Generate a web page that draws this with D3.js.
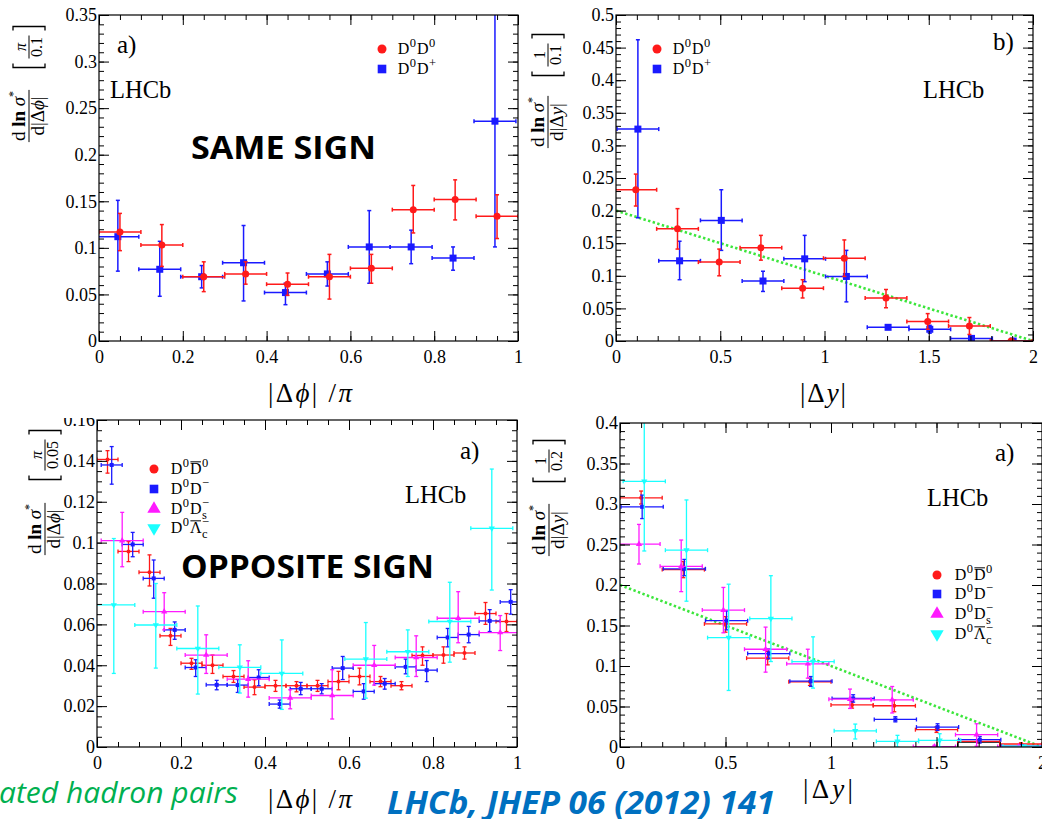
<!DOCTYPE html>
<html>
<head>
<meta charset="utf-8">
<script src="https://cdn.jsdelivr.net/npm/d3@7"></script>
<style>
  html, body { margin: 0; padding: 0; background: #fff; }
  svg { display: block; }
</style>
</head>
<body>
<svg id="chart" width="1042" height="819"></svg>
<script>
// ---------------- tick labels ----------------
const phiXTicks = [0, 0.2, 0.4, 0.6, 0.8, 1];
const dyXTicks = [0, 0.5, 1, 1.5, 2];
const ssPhiYTicks = [0, 0.05, 0.1, 0.15, 0.2, 0.25, 0.3, 0.35];
const ssDyYTicks = [0, 0.05, 0.1, 0.15, 0.2, 0.25, 0.3, 0.35, 0.4, 0.45, 0.5];
const osPhiYTicks = [0, 0.02, 0.04, 0.06, 0.08, 0.1, 0.12, 0.14, 0.16];
const osDyYTicks = [0, 0.05, 0.1, 0.15, 0.2, 0.25, 0.3, 0.35, 0.4];

// ---------------- same sign, |dphi|/pi ----------------
const ssPhiBins = [0.05, 0.15, 0.25, 0.35, 0.45, 0.55, 0.65, 0.75, 0.85, 0.95];
const ssPhiD0D0   = [0.117, 0.103, 0.069, 0.072, 0.061, 0.069, 0.078, 0.141, 0.152, 0.134];
const ssPhiD0D0Hi = [0.137, 0.125, 0.085, 0.085, 0.073, 0.093, 0.093, 0.167, 0.173, 0.157];
const ssPhiD0D0Lo = [0.097, 0.080, 0.053, 0.061, 0.049, 0.045, 0.062, 0.116, 0.130, 0.110];
const ssPhiD0Dp   = [0.112, 0.077, 0.069, 0.084, 0.052, 0.072, 0.101, 0.101, 0.089, 0.236];
const ssPhiD0DpHi = [0.151, 0.107, 0.081, 0.124, 0.062, 0.085, 0.140, 0.119, 0.101, 0.400];
const ssPhiD0DpLo = [0.075, 0.048, 0.057, 0.043, 0.039, 0.059, 0.062, 0.083, 0.076, 0.101];

// ---------------- same sign, |dy| ----------------
const ssDyBins = [0.1, 0.3, 0.5, 0.7, 0.9, 1.1, 1.3, 1.5, 1.7, 1.9];
const ssDyD0D0   = [0.232, 0.172, 0.121, 0.143, 0.081, 0.127, 0.066, 0.030, 0.023, 0.000];
const ssDyD0D0Hi = [0.256, 0.203, 0.141, 0.162, 0.094, 0.155, 0.079, 0.042, 0.036, 0.001];
const ssDyD0D0Lo = [0.207, 0.141, 0.100, 0.124, 0.066, 0.099, 0.051, 0.018, 0.010, 0.000];
const ssDyD0Dp   = [0.325, 0.123, 0.185, 0.092, 0.126, 0.099, 0.021, 0.018, 0.004, 0.000];
const ssDyD0DpHi = [0.462, 0.153, 0.232, 0.107, 0.162, 0.139, 0.024, 0.024, 0.006, 0.001];
const ssDyD0DpLo = [0.189, 0.094, 0.139, 0.076, 0.091, 0.060, 0.018, 0.012, 0.002, 0.000];
// reference line drawn on both |dy| panels
const refLineX = [0, 2];
const refLineY = [0.2, 0];

// ---------------- opposite sign, |dphi|/pi ----------------
const osPhiBinsFine = [0.025, 0.075, 0.125, 0.175, 0.225, 0.275, 0.325, 0.375, 0.425, 0.475,
                       0.525, 0.575, 0.625, 0.675, 0.725, 0.775, 0.825, 0.875, 0.925, 0.975];
const osPhiD0D0b   = [0.1407, 0.0957, 0.0855, 0.0544, 0.0410, 0.0400, 0.0345, 0.0293, 0.0300, 0.0300,
                      0.0300, 0.0320, 0.0345, 0.0320, 0.0300, 0.0448, 0.0450, 0.0460, 0.0653, 0.0614];
const osPhiD0D0bHi = [0.1450, 0.1005, 0.0940, 0.0580, 0.0434, 0.0450, 0.0374, 0.0329, 0.0326, 0.0320,
                      0.0326, 0.0370, 0.0386, 0.0345, 0.0320, 0.0490, 0.0490, 0.0490, 0.0707, 0.0653];
const osPhiD0D0bLo = [0.1340, 0.0907, 0.0788, 0.0497, 0.0380, 0.0360, 0.0316, 0.0256, 0.0272, 0.0270,
                      0.0272, 0.0280, 0.0304, 0.0295, 0.0280, 0.0400, 0.0410, 0.0430, 0.0600, 0.0565];
const osPhiD0Dm   = [0.1380, 0.0991, 0.0825, 0.0573, 0.0389, 0.0304, 0.0303, 0.0340, 0.0210, 0.0285,
                     0.0285, 0.0386, 0.0272, 0.0310, 0.0392, 0.0376, 0.0536, 0.0550, 0.0617, 0.0710];
const osPhiD0DmHi = [0.1470, 0.1050, 0.0915, 0.0612, 0.0427, 0.0326, 0.0330, 0.0378, 0.0230, 0.0316,
                     0.0310, 0.0443, 0.0310, 0.0335, 0.0430, 0.0423, 0.0580, 0.0590, 0.0672, 0.0770];
const osPhiD0DmLo = [0.1286, 0.0931, 0.0728, 0.0527, 0.0345, 0.0280, 0.0267, 0.0300, 0.0190, 0.0256,
                     0.0260, 0.0330, 0.0234, 0.0283, 0.0358, 0.0320, 0.0490, 0.0510, 0.0565, 0.0650];
const osPhiBinsWide = [0.05, 0.15, 0.25, 0.35, 0.45, 0.55, 0.65, 0.75, 0.85, 0.95];
const osPhiD0Ds   = [0.1010, 0.0662, 0.0450, 0.0332, 0.0240, 0.0252, 0.0400, 0.0438, 0.0630, 0.0560];
const osPhiD0DsHi = [0.1148, 0.0755, 0.0549, 0.0422, 0.0280, 0.0378, 0.0497, 0.0544, 0.0760, 0.0643];
const osPhiD0DsLo = [0.0882, 0.0573, 0.0360, 0.0244, 0.0187, 0.0137, 0.0303, 0.0345, 0.0510, 0.0472];
const osPhiLcBins = [0.05, 0.15, 0.25, 0.35, 0.45, 0.65, 0.75, 0.85, 0.95];
const osPhiD0Lc   = [0.0695, 0.0597, 0.0482, 0.0390, 0.0360, 0.0430, 0.0466, 0.0614, 0.1070];
const osPhiD0LcHi = [0.1020, 0.0800, 0.0690, 0.0500, 0.0524, 0.0609, 0.0573, 0.0806, 0.1360];
const osPhiD0LcLo = [0.0360, 0.0386, 0.0259, 0.0264, 0.0184, 0.0239, 0.0345, 0.0415, 0.0768];

// ---------------- opposite sign, |dy| ----------------
const osDyBins = [0.1, 0.3, 0.5, 0.7, 0.9, 1.1, 1.3, 1.5, 1.7, 1.9];
const osDyD0D0b   = [0.3076, 0.219, 0.152, 0.1097, 0.0805, 0.052, 0.0509, 0.0214, 0.007, 0.0037];
const osDyD0D0bHi = [0.3160, 0.229, 0.161, 0.1180, 0.0850, 0.056, 0.0580, 0.0250, 0.009, 0.0050];
const osDyD0D0bLo = [0.3000, 0.209, 0.1417, 0.1014, 0.0760, 0.048, 0.0435, 0.0180, 0.005, 0.0025];
const osDyD0Dm   = [0.2965, 0.2200, 0.1560, 0.1154, 0.0813, 0.0600, 0.0340, 0.0246, 0.009, 0.001];
const osDyD0DmHi = [0.3110, 0.2316, 0.1680, 0.1210, 0.0870, 0.0645, 0.0374, 0.0287, 0.013, 0.002];
const osDyD0DmLo = [0.2820, 0.2115, 0.1446, 0.1090, 0.0748, 0.0554, 0.0310, 0.0205, 0.005, 0.000];
const osDyD0Ds   = [0.2505, 0.2230, 0.169, 0.1207, 0.1027, 0.0590, 0.0583, 0.0005, 0.0152, 0.0005];
const osDyD0DsHi = [0.2748, 0.2555, 0.197, 0.1480, 0.1207, 0.0715, 0.0747, 0.0020, 0.0287, 0.0020];
const osDyD0DsLo = [0.2259, 0.1918, 0.141, 0.0924, 0.0850, 0.0476, 0.0420, 0.0000, 0.0010, 0.0000];
const osDyLcBins = [0.1, 0.3, 0.5, 0.7, 0.9, 1.1, 1.3, 1.5, 1.9];
const osDyD0Lc   = [0.328, 0.243, 0.135, 0.1585, 0.1055, 0.0200, 0.0070, 0.0082, 0.001];
const osDyD0LcHi = [0.415, 0.305, 0.201, 0.2115, 0.1360, 0.0283, 0.0144, 0.0164, 0.002];
const osDyD0LcLo = [0.242, 0.180, 0.0698, 0.1055, 0.0727, 0.0099, 0.0000, 0.0000, 0.000];
const osDyBoxBins = [1.7];
const osDyBox = [0.006];

// ---------------- legend labels ----------------
const lblD0D0  = [{t: "D"}, {t: "0", sup: 1}, {t: "D"}, {t: "0", sup: 1}];
const lblD0Dp  = [{t: "D"}, {t: "0", sup: 1}, {t: "D"}, {t: "+", sup: 1}];
const lblD0D0b = [{t: "D"}, {t: "0", sup: 1}, {t: "D", bar: 1}, {t: "0", sup: 1}];
const lblD0Dm  = [{t: "D"}, {t: "0", sup: 1}, {t: "D"}, {t: "\u2212", sup: 1}];
const lblD0Ds  = [{t: "D"}, {t: "0", sup: 1}, {t: "D"}, {t: "\u2212", sup: 1}, {t: "s", sub: 1, stack: 1}];
const lblD0Lc  = [{t: "D"}, {t: "0", sup: 1}, {t: "\u039B", bar: 1}, {t: "\u2212", sup: 1}, {t: "c", sub: 1, stack: 1}];

// ---------------- drawing ----------------
const svg = d3.select("#chart");
const SERIF = "'Liberation Serif', 'Times New Roman', serif";
const SANS = "'Open Sans', 'Noto Sans', sans-serif";
const RED = "#ff1a1a", BLUE = "#1a1aff", MAG = "#ff1aff", CYAN = "#1affff";
const PHI = "\u03D5";
const fmt = d => String(+d.toFixed(3));

const panels = [
  {
    id: "p1", box: {l: 99, r: 518, t: 15, b: 341}, xDom: [0, 1], yDom: [0, 0.35],
    xTicks: phiXTicks, xMinor: 0.05, yTicks: ssPhiYTicks, yMinor: 0.01,
    mk: 3.5, lw: 1.5,
    series: [
      {bins: ssPhiBins, half: 0.05, shift: -0.005, v: ssPhiD0Dp, hi: ssPhiD0DpHi, lo: ssPhiD0DpLo, color: BLUE, shape: "square"},
      {bins: ssPhiBins, half: 0.05, shift: 0, v: ssPhiD0D0, hi: ssPhiD0D0Hi, lo: ssPhiD0D0Lo, color: RED, shape: "circle"}
    ]
  },
  {
    id: "p2", box: {l: 616, r: 1033, t: 15, b: 341}, xDom: [0, 2], yDom: [0, 0.5],
    xTicks: dyXTicks, xMinor: 0.1, yTicks: ssDyYTicks, yMinor: 0.01,
    mk: 3.5, lw: 1.5, refLine: true,
    series: [
      {bins: ssDyBins, half: 0.1, shift: 0.005, v: ssDyD0Dp, hi: ssDyD0DpHi, lo: ssDyD0DpLo, color: BLUE, shape: "square"},
      {bins: ssDyBins, half: 0.1, shift: -0.005, v: ssDyD0D0, hi: ssDyD0D0Hi, lo: ssDyD0D0Lo, color: RED, shape: "circle"}
    ]
  },
  {
    id: "p3", box: {l: 97, r: 517, t: 420, b: 747}, xDom: [0, 1], yDom: [0, 0.16],
    xTicks: phiXTicks, xMinor: 0.05, yTicks: osPhiYTicks, yMinor: 0.005,
    mk: 2, lw: 1.3, clipTop: 418,
    series: [
      {bins: osPhiBinsFine, half: 0.025, shift: 0, v: osPhiD0D0b, hi: osPhiD0D0bHi, lo: osPhiD0D0bLo, color: RED, shape: "circle"},
      {bins: osPhiBinsFine, half: 0.025, shift: 0.01, v: osPhiD0Dm, hi: osPhiD0DmHi, lo: osPhiD0DmLo, color: BLUE, shape: "square"},
      {bins: osPhiBinsWide, half: 0.05, shift: 0.01, v: osPhiD0Ds, hi: osPhiD0DsHi, lo: osPhiD0DsLo, color: MAG, shape: "tri"},
      {bins: osPhiLcBins, half: 0.05, shift: -0.01, v: osPhiD0Lc, hi: osPhiD0LcHi, lo: osPhiD0LcLo, color: CYAN, shape: "itri"}
    ]
  },
  {
    id: "p4", box: {l: 620, r: 1042, t: 423, b: 747}, xDom: [0, 2], yDom: [0, 0.4],
    xTicks: dyXTicks, xMinor: 0.1, yTicks: osDyYTicks, yMinor: 0.01,
    mk: 2, lw: 1.3, refLine: true, box17: true,
    series: [
      {bins: osDyBins, half: 0.1, shift: 0, v: osDyD0D0b, hi: osDyD0D0bHi, lo: osDyD0D0bLo, color: RED, shape: "circle"},
      {bins: osDyBins, half: 0.1, shift: 0.005, v: osDyD0Dm, hi: osDyD0DmHi, lo: osDyD0DmLo, color: BLUE, shape: "square"},
      {bins: osDyBins, half: 0.1, shift: -0.01, v: osDyD0Ds, hi: osDyD0DsHi, lo: osDyD0DsLo, color: MAG, shape: "tri"},
      {bins: osDyLcBins, half: 0.1, shift: 0.015, v: osDyD0Lc, hi: osDyD0LcHi, lo: osDyD0LcLo, color: CYAN, shape: "itri"}
    ]
  }
];

const defs = svg.append("defs");

function marker(g, shape, cx, cy, s, color) {
  if (shape === "circle") {
    g.append("circle").attr("cx", cx).attr("cy", cy).attr("r", s).attr("fill", color);
  } else if (shape === "square") {
    g.append("rect").attr("x", cx - s).attr("y", cy - s).attr("width", 2 * s).attr("height", 2 * s).attr("fill", color);
  } else {
    const sym = d3.symbol().type(d3.symbolTriangle).size(s * s * 4.2);
    g.append("path").attr("d", sym())
      .attr("transform", `translate(${cx},${cy})` + (shape === "itri" ? " rotate(180)" : ""))
      .attr("fill", color);
  }
}

function richText(g, x, y, segs, size) {
  let cx = x, supX = x, supW = 0;
  segs.forEach(s => {
    const small = s.sup || s.sub;
    const fs = small ? size * 0.78 : size;
    const dy = s.sup ? -size * 0.42 : (s.sub ? size * 0.34 : 0);
    const sx = s.stack ? supX : cx + (small ? 0.5 : 0.8);
    const t = g.append("text").attr("x", sx).attr("y", y + dy)
      .attr("font-family", SERIF).attr("font-size", fs).attr("fill", "#000").text(s.t);
    const w = t.node().getComputedTextLength();
    if (s.bar) {
      g.append("line").attr("x1", sx + 0.5).attr("x2", sx + w - 0.5)
        .attr("y1", y - size * 0.76).attr("y2", y - size * 0.76)
        .attr("stroke", "#000").attr("stroke-width", 1);
    }
    if (s.sup) { supX = sx; supW = w; }
    cx = s.stack ? Math.max(supX + supW, sx + w) : sx + w;
  });
}

panels.forEach(p => {
  const B = p.box;
  const x = d3.scaleLinear().domain(p.xDom).range([B.l, B.r]);
  const y = d3.scaleLinear().domain(p.yDom).range([B.b, B.t]);

  const root = svg.append("g");
  if (p.clipTop !== undefined) {
    defs.append("clipPath").attr("id", p.id + "-outer").append("rect")
      .attr("x", 0).attr("y", p.clipTop).attr("width", 1042).attr("height", 819 - p.clipTop);
    root.attr("clip-path", `url(#${p.id}-outer)`);
  }

  // data are clipped to the frame
  defs.append("clipPath").attr("id", p.id + "-clip").append("rect")
    .attr("x", B.l).attr("y", B.t).attr("width", B.r - B.l).attr("height", B.b - B.t);
  const data = root.append("g").attr("clip-path", `url(#${p.id}-clip)`);

  if (p.refLine) {
    const line = d3.line().x((d, i) => x(refLineX[i])).y(d => y(d));
    data.append("path").attr("d", line(refLineY)).attr("fill", "none")
      .attr("stroke", "#3ce63c").attr("stroke-width", 2.6).attr("stroke-dasharray", "2.4,2.4");
  }

  if (p.box17) {
    osDyBoxBins.forEach((b, i) => {
      data.append("path")
        .attr("d", `M${x(b - 0.1)},${y(0)}V${y(osDyBox[i])}H${x(b + 0.1)}V${y(0)}`)
        .attr("fill", "none").attr("stroke", "#000").attr("stroke-width", 1.2);
    });
  }

  const cap = 2;
  p.series.forEach(s => {
    const g = data.append("g").attr("stroke", s.color).attr("stroke-width", p.lw).attr("fill", "none");
    s.bins.forEach((b, i) => {
      const cx = x(b + s.shift), xl = x(b + s.shift - s.half), xr = x(b + s.shift + s.half);
      const cy = y(s.v[i]), yu = y(s.hi[i]), yd = y(s.lo[i]);
      g.append("line").attr("x1", xl).attr("x2", xr).attr("y1", cy).attr("y2", cy);
      g.append("line").attr("x1", xl).attr("x2", xl).attr("y1", cy - cap).attr("y2", cy + cap);
      g.append("line").attr("x1", xr).attr("x2", xr).attr("y1", cy - cap).attr("y2", cy + cap);
      if (yd - yu > 0.5) {
        g.append("line").attr("x1", cx).attr("x2", cx).attr("y1", yu).attr("y2", yd);
        g.append("line").attr("x1", cx - cap).attr("x2", cx + cap).attr("y1", yu).attr("y2", yu);
        g.append("line").attr("x1", cx - cap).attr("x2", cx + cap).attr("y1", yd).attr("y2", yd);
      }
    });
    const m = data.append("g");
    s.bins.forEach((b, i) => marker(m, s.shape, x(b + s.shift), y(s.v[i]), p.mk, s.color));
  });

  // axes: inward ticks on all four sides
  const axG = root.append("g");
  const xMinorVals = d3.range(p.xDom[0], p.xDom[1] + 1e-9, p.xMinor);
  const yMinorVals = d3.range(p.yDom[0], p.yDom[1] + 1e-9, p.yMinor);
  const style = sel => {
    sel.select(".domain").remove();
    sel.selectAll("line").attr("stroke", "#000").attr("stroke-width", 1);
    sel.selectAll("text").attr("font-family", SERIF).attr("font-size", 18).attr("fill", "#000");
  };
  axG.append("g").attr("transform", `translate(0,${B.b})`)
    .call(d3.axisBottom(x).tickValues(p.xTicks).tickSize(-10).tickSizeOuter(0).tickPadding(9).tickFormat(fmt)).call(style);
  axG.append("g").attr("transform", `translate(0,${B.b})`)
    .call(d3.axisBottom(x).tickValues(xMinorVals).tickSize(-5).tickSizeOuter(0).tickFormat("")).call(style);
  axG.append("g").attr("transform", `translate(0,${B.t})`)
    .call(d3.axisTop(x).tickValues(p.xTicks).tickSize(-10).tickSizeOuter(0).tickFormat("")).call(style);
  axG.append("g").attr("transform", `translate(0,${B.t})`)
    .call(d3.axisTop(x).tickValues(xMinorVals).tickSize(-5).tickSizeOuter(0).tickFormat("")).call(style);
  axG.append("g").attr("transform", `translate(${B.l},0)`)
    .call(d3.axisLeft(y).tickValues(p.yTicks).tickSize(-10).tickSizeOuter(0).tickPadding(2).tickFormat(fmt)).call(style);
  axG.append("g").attr("transform", `translate(${B.l},0)`)
    .call(d3.axisLeft(y).tickValues(yMinorVals).tickSize(-5).tickSizeOuter(0).tickFormat("")).call(style);
  axG.append("g").attr("transform", `translate(${B.r},0)`)
    .call(d3.axisRight(y).tickValues(p.yTicks).tickSize(-10).tickSizeOuter(0).tickFormat("")).call(style);
  axG.append("g").attr("transform", `translate(${B.r},0)`)
    .call(d3.axisRight(y).tickValues(yMinorVals).tickSize(-5).tickSizeOuter(0).tickFormat("")).call(style);

  root.append("rect").attr("x", B.l).attr("y", B.t).attr("width", B.r - B.l).attr("height", B.b - B.t)
    .attr("fill", "none").attr("stroke", "#000").attr("stroke-width", 1.2);
});

// ---------------- text annotations ----------------
function serifText(x, y, str, size, anchor) {
  return svg.append("text").attr("x", x).attr("y", y).attr("font-family", SERIF)
    .attr("font-size", size).attr("fill", "#000").attr("text-anchor", anchor || "start").text(str);
}
serifText(117, 53, "a)", 25);
serifText(993, 50, "b)", 25);
serifText(460, 459, "a)", 25);
serifText(995, 461, "a)", 25);
serifText(110, 98, "LHCb", 24.5);
serifText(923, 98, "LHCb", 24.5);
serifText(405, 503, "LHCb", 24.5);
serifText(927, 506, "LHCb", 24.5);

// x-axis titles
function xTitle(cx, y, v, len) {
  const t = svg.append("text").attr("x", cx).attr("y", y).attr("font-family", SERIF)
    .attr("font-size", 27).attr("text-anchor", "middle").attr("fill", "#000")
    .attr("textLength", len).attr("lengthAdjust", "spacing");
  t.append("tspan").text("|\u0394");
  t.append("tspan").attr("font-style", "italic").text(v);
  t.append("tspan").text("|");
  if (v === PHI) {
    t.append("tspan").text(" /");
    t.append("tspan").attr("font-style", "italic").text("\u03C0");
  }
}
xTitle(310, 402, PHI, 84);
xTitle(823, 402, "y", 46);
xTitle(310, 808, PHI, 84);
xTitle(828, 798, "y", 50);

// rotated y-axis titles: d ln sigma* / d|dX|  [num/den]
function yTitle(lineX, fracCy, brCy, v, num, den) {
  const g = svg.append("g").attr("transform", `translate(${lineX},${fracCy}) rotate(-90)`)
    .attr("font-family", SERIF).attr("fill", "#000");
  const n = g.append("text").attr("text-anchor", "middle").attr("y", -4).attr("font-size", 19);
  n.append("tspan").text("d");
  n.append("tspan").attr("font-weight", "bold").text(" ln ");
  n.append("tspan").attr("font-style", "italic").text("\u03C3");
  n.append("tspan").attr("font-size", 12).attr("dy", -8).text("*");
  const d = g.append("text").attr("text-anchor", "middle").attr("y", 15).attr("font-size", 19);
  d.append("tspan").text("d|\u0394");
  d.append("tspan").attr("font-style", "italic").text(v);
  d.append("tspan").text("|");
  const w = Math.max(n.node().getComputedTextLength(), d.node().getComputedTextLength()) + 2;
  g.append("line").attr("x1", -w / 2).attr("x2", w / 2).attr("y1", 0).attr("y2", 0)
    .attr("stroke", "#000").attr("stroke-width", 1);

  const b = svg.append("g").attr("transform", `translate(${lineX},${brCy}) rotate(-90)`)
    .attr("font-family", SERIF).attr("fill", "#000");
  const bn = b.append("text").attr("text-anchor", "middle").attr("y", -3).attr("font-size", 16)
    .attr("font-style", num === "\u03C0" ? "italic" : null).text(num);
  const bd = b.append("text").attr("text-anchor", "middle").attr("y", 13).attr("font-size", 16).text(den);
  const bw = Math.max(bn.node().getComputedTextLength(), bd.node().getComputedTextLength()) + 3;
  b.append("line").attr("x1", -bw / 2).attr("x2", bw / 2).attr("y1", 0).attr("y2", 0)
    .attr("stroke", "#000").attr("stroke-width", 1);
  const hw = bw / 2 + 9;
  b.append("path").attr("d", `M${-hw + 4},-16H${-hw}V16H${-hw + 4}M${hw - 4},-16H${hw}V16H${hw - 4}`)
    .attr("fill", "none").attr("stroke", "#000").attr("stroke-width", 1.3);
}
yTitle(29, 116, 47, PHI, "\u03C0", "0.1");
yTitle(548, 122, 55, "y", "1", "0.1");
yTitle(45, 529, 455, PHI, "\u03C0", "0.05");
yTitle(549, 530, 461, "y", "1", "0.2");

// legends
function legend(mx, tx, rows, entries) {
  const g = svg.append("g");
  entries.forEach((e, i) => {
    marker(g, e.shape, mx, rows[i], e.shape === "circle" ? 4.5 : 4.3, e.color);
    richText(g, tx, rows[i] + 5, e.label, 16);
  });
}
legend(382, 397, [49, 69], [
  {shape: "circle", color: RED, label: lblD0D0},
  {shape: "square", color: BLUE, label: lblD0Dp}
]);
legend(657, 672, [49, 69], [
  {shape: "circle", color: RED, label: lblD0D0},
  {shape: "square", color: BLUE, label: lblD0Dp}
]);
legend(154, 170, [469, 489, 509, 528], [
  {shape: "circle", color: RED, label: lblD0D0b},
  {shape: "square", color: BLUE, label: lblD0Dm},
  {shape: "tri", color: MAG, label: lblD0Ds},
  {shape: "itri", color: CYAN, label: lblD0Lc}
]);
legend(937, 954, [575, 594, 614, 634], [
  {shape: "circle", color: RED, label: lblD0D0b},
  {shape: "square", color: BLUE, label: lblD0Dm},
  {shape: "tri", color: MAG, label: lblD0Ds},
  {shape: "itri", color: CYAN, label: lblD0Lc}
]);

// headings and citation
svg.append("text").attr("x", 191).attr("y", 159).attr("font-family", SANS).attr("font-weight", 700)
  .attr("font-size", 33).attr("textLength", 185).attr("lengthAdjust", "spacingAndGlyphs")
  .attr("fill", "#000").text("SAME SIGN");
svg.append("text").attr("x", 181).attr("y", 578).attr("font-family", SANS).attr("font-weight", 700)
  .attr("font-size", 33).attr("textLength", 253).attr("lengthAdjust", "spacingAndGlyphs")
  .attr("fill", "#000").text("OPPOSITE SIGN");
svg.append("text").attr("x", -1).attr("y", 803).attr("font-family", SANS).attr("font-style", "italic")
  .attr("font-size", 29).attr("textLength", 239).attr("lengthAdjust", "spacingAndGlyphs")
  .attr("fill", "#00b050").text("ated hadron pairs");
svg.append("text").attr("x", 387).attr("y", 814).attr("font-family", SANS).attr("font-style", "italic")
  .attr("font-weight", 700).attr("font-size", 32).attr("textLength", 388).attr("lengthAdjust", "spacingAndGlyphs")
  .attr("fill", "#0070c0").text("LHCb, JHEP 06 (2012) 141");
</script>
</body>
</html>
